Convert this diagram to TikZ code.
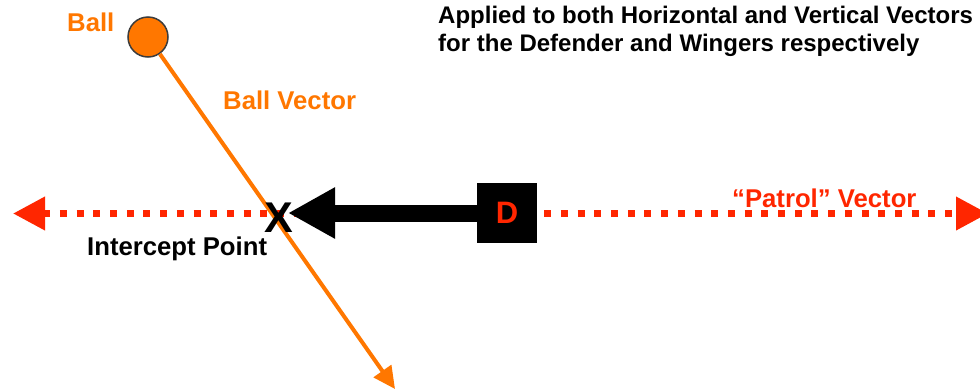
\documentclass[tikz,border=0pt]{standalone}
\usepackage{fontspec}
\setmainfont{Liberation Sans}
\usetikzlibrary{arrows.meta}

\definecolor{ballorange}{RGB}{255,119,0}
\definecolor{patrolred}{RGB}{255,38,0}
\definecolor{balledge}{RGB}{60,60,60}

\tikzset{
  lbl/.style={inner sep=0pt, anchor=base west, font=\bfseries\fontsize{25.7}{30}\selectfont},
  notetext/.style={inner sep=0pt, anchor=base west, align=left,
    font=\bfseries\fontsize{24}{28}\selectfont},
  ballnode/.style={circle, minimum size=40pt, inner sep=0pt, fill=ballorange,
    draw=balledge, line width=1.5pt},
  defender/.style={rectangle, minimum size=60pt, inner sep=0pt, fill=black,
    text=patrolred, font=\bfseries\fontsize{31}{31}\selectfont},
  crossmark/.style={inner sep=0pt, font=\bfseries\fontsize{43}{43}\selectfont},
  patrolline/.style={patrolred, line width=7pt, dash pattern=on 7pt off 9.7pt,
    {Triangle[length=32pt,width=32pt]}-{Triangle[length=32pt,width=32pt]}},
  ballline/.style={ballorange, line width=4pt, -{Triangle[length=22pt,width=21pt]}},
  moveline/.style={black, line width=17pt, -{Triangle[length=47pt,width=48pt]}},
}

\begin{document}
\begin{tikzpicture}[x=1pt,y=-1pt]
  \useasboundingbox (0,0) rectangle (980,389);

  % patrol line end points
  \coordinate (pleft) at (13,213.5);
  \coordinate (pright) at (988,213.5);
  \coordinate (bend) at (395,389);

  % labels
  \node[lbl, text=ballorange] (balllbl) at (67,31) {Ball};
  \node[lbl, text=ballorange] (bvlbl) at (223,109) {Ball Vector};
  \node[lbl] (interlbl) at (87,255) {Intercept Point};
  \node[lbl, text=patrolred] (patrollbl) at (732,207) {“Patrol” Vector};
  \node[notetext] (note) at (438,51)
    {Applied to both Horizontal and Vertical Vectors\\for the Defender and Wingers respectively};

  % patrol vector
  \draw[patrolline] (pleft) -- (pright);

  % ball and its vector
  \node[ballnode] (ball) at (148,37) {};
  \draw[ballline] (ball) -- (bend);

  % defender moving to the intercept point
  \node[defender] (D) at (507,213) {D};
  \coordinate (Xc) at (278.5,217.5);
  \draw[moveline, shorten >=9.5pt] (D.west) -- (D.west -| Xc);
  \node[crossmark] (X) at (Xc) {X};
\end{tikzpicture}
\end{document}
